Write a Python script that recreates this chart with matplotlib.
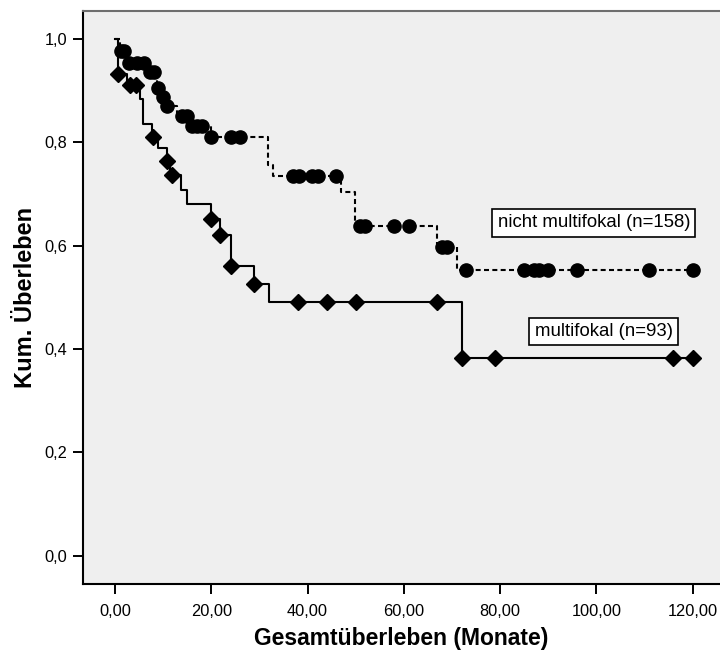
from matplotlib import pyplot as plt
from matplotlib.ticker import FuncFormatter

plt.rcParams['font.family'] = ['Liberation Sans', 'DejaVu Sans']

# Kaplan-Meier Stufen (Zeit in Monaten, kum. Ueberleben)
nicht_t = [0, 1.0, 2.4, 7.0, 8.8, 9.8, 10.8, 12.8, 15.2, 20.0, 31.8, 32.9, 47.0, 49.8, 67.0, 71.0, 120.0]
nicht_s = [1.0, 0.977, 0.954, 0.937, 0.905, 0.888, 0.870, 0.851, 0.832, 0.811, 0.756, 0.735, 0.703, 0.638, 0.598, 0.552, 0.552]
# zensierte Faelle
nicht_cens_t = [1.3, 1.8, 3.0, 4.5, 6.0, 7.3, 8.0, 9.0, 9.9, 10.9, 14.0, 15.0, 16.0, 17.0, 18.0, 20.0, 24.0, 26.0,
                37.0, 38.3, 41.0, 42.2, 46.0, 51.0, 52.0, 58.0, 61.0, 68.0, 69.0, 73.0, 85.0, 87.0, 88.0, 90.0,
                96.0, 111.0, 120.0]
nicht_cens_s = [0.977, 0.977, 0.954, 0.954, 0.954, 0.937, 0.937, 0.905, 0.888, 0.870, 0.851, 0.851, 0.832, 0.832,
                0.832, 0.811, 0.811, 0.811, 0.735, 0.735, 0.735, 0.735, 0.735, 0.638, 0.638, 0.638, 0.638, 0.598,
                0.598, 0.552, 0.552, 0.552, 0.552, 0.552, 0.552, 0.552, 0.552]

multi_t = [0, 0.6, 2.5, 5.2, 5.9, 7.6, 9.0, 10.8, 11.5, 13.7, 14.9, 20.0, 21.9, 24.0, 28.9, 32.0, 72.0, 120.0]
multi_s = [1.0, 0.932, 0.910, 0.884, 0.835, 0.811, 0.789, 0.763, 0.737, 0.708, 0.680, 0.651, 0.621, 0.560, 0.526,
           0.491, 0.382, 0.382]
multi_cens_t = [0.7, 3.2, 4.3, 7.8, 10.9, 11.9, 20.0, 21.9, 24.0, 28.9, 38.0, 44.0, 50.0, 67.0, 72.0, 79.0, 116.0,
                120.0]
multi_cens_s = [0.932, 0.910, 0.910, 0.811, 0.763, 0.737, 0.651, 0.621, 0.560, 0.526, 0.491, 0.491, 0.491, 0.491,
                0.382, 0.382, 0.382, 0.382]

label_nicht = 'nicht multifokal (n=158)'
label_multi = 'multifokal (n=93)'

fig = plt.figure(figsize=(7.2, 6.54), dpi=100)
ax = fig.add_axes([0.1153, 0.1070, 0.8847, 0.8761])
ax.set_facecolor('#efefef')

ax.plot(nicht_t, nicht_s, drawstyle='steps-post', color='k', linewidth=1.5, linestyle=(0, (2.4, 1.6)))
ax.plot(nicht_cens_t, nicht_cens_s, linestyle='none', marker='o', markersize=9.5, color='k')

ax.plot(multi_t, multi_s, drawstyle='steps-post', color='k', linewidth=1.5)
ax.plot(multi_cens_t, multi_cens_s, linestyle='none', marker='D', markersize=7.8, color='k')

box = dict(boxstyle='square,pad=0.28', facecolor='white', edgecolor='k', linewidth=1.2)
ax.text(99.5, 0.644, label_nicht, fontsize=13.4, ha='center', va='center', bbox=box)
ax.text(101.5, 0.434, label_multi, fontsize=13.4, ha='center', va='center', bbox=box)

ax.set_xlim(-6.65, 125.7)
ax.set_ylim(-0.055, 1.054)
ax.set_xticks([0, 20, 40, 60, 80, 100, 120])
ax.set_yticks([0, 0.2, 0.4, 0.6, 0.8, 1.0])
ax.xaxis.set_major_formatter(FuncFormatter(lambda v, p: ('%.2f' % v).replace('.', ',')))
ax.yaxis.set_major_formatter(FuncFormatter(lambda v, p: ('%.1f' % v).replace('.', ',')))
ax.tick_params(axis='both', length=7.5, width=1.4, labelsize=11.8, pad=4)
ax.tick_params(axis='x', pad=7)

for s in ['left', 'bottom']:
    ax.spines[s].set_linewidth(1.5)
ax.spines['top'].set_color('#6e6e6e')
ax.spines['top'].set_linewidth(1.5)
ax.spines['right'].set_visible(False)

ax.set_xlabel('Gesamtüberleben (Monate)', fontsize=16.5, fontweight='bold', labelpad=6)
ax.set_ylabel('Kum. Überleben', fontsize=17, fontweight='bold', labelpad=5)

fig.savefig('out.png', dpi=100)
